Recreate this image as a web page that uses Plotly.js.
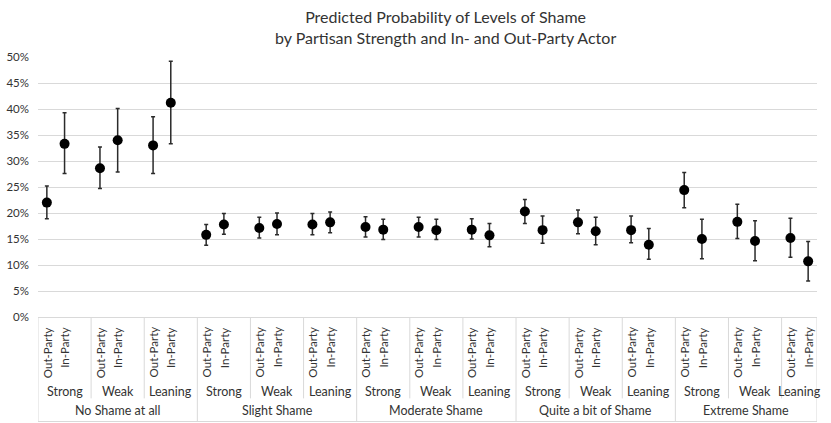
<!DOCTYPE html>
<html>
<head>
<meta charset="utf-8">
<script src="https://cdn.plot.ly/plotly-3.0.1.min.js"></script>
<style>
  html, body { margin: 0; padding: 0; background: #fff; }
  #chart { width: 831px; height: 423px; }
</style>
</head>
<body>
<div id="chart"></div>
<script>
// Category levels
const shameLevels = ['No Shame at all', 'Slight Shame', 'Moderate Shame', 'Quite a bit of Shame', 'Extreme Shame'];
const strengths = ['Strong', 'Weak', 'Leaning'];
const actors = ['Out-Party', 'In-Party'];

// Predicted probabilities, ordered shame level > strength > actor (Out, In)
const estimate = [
  0.220, 0.333, 0.286, 0.340, 0.330, 0.412,
  0.158, 0.178, 0.171, 0.179, 0.178, 0.182,
  0.173, 0.168, 0.173, 0.167, 0.168, 0.157,
  0.203, 0.167, 0.182, 0.165, 0.167, 0.139,
  0.244, 0.150, 0.183, 0.146, 0.152, 0.107
];
// 95% interval bounds
const upper = [
  0.252, 0.393, 0.327, 0.401, 0.385, 0.492,
  0.178, 0.199, 0.192, 0.200, 0.199, 0.202,
  0.193, 0.188, 0.192, 0.188, 0.189, 0.180,
  0.226, 0.194, 0.206, 0.192, 0.194, 0.170,
  0.278, 0.188, 0.217, 0.185, 0.190, 0.145
];
const lower = [
  0.189, 0.276, 0.247, 0.279, 0.276, 0.333,
  0.138, 0.159, 0.152, 0.158, 0.158, 0.162,
  0.154, 0.149, 0.154, 0.149, 0.150, 0.135,
  0.180, 0.142, 0.160, 0.139, 0.143, 0.111,
  0.210, 0.112, 0.151, 0.108, 0.115, 0.069
];

const chartTitle = 'Predicted Probability of Levels of Shame<br>by Partisan Strength and In- and Out-Party Actor';

// Each strength group holds Out-Party, In-Party and a spacer slot,
// except the very last group.
const SLOTS = 3;
const nGroups = shameLevels.length * strengths.length;
const lastSlot = (nGroups - 1) * SLOTS + actors.length - 1;

const xs = [], errPlus = [], errMinus = [];
estimate.forEach((v, i) => {
  const g = Math.floor(i / actors.length);
  const a = i % actors.length;
  xs.push(g * SLOTS + a);
  errPlus.push(upper[i] - v);
  errMinus.push(v - lower[i]);
});

const textColor = '#333333';
const lineColor = '#d9d9d9';
const font = 'Lato, "Open Sans", sans-serif';

const trace = {
  type: 'scatter',
  mode: 'markers',
  x: xs,
  y: estimate,
  marker: { color: '#000', size: 10 },
  error_y: {
    type: 'data', symmetric: false,
    array: errPlus, arrayminus: errMinus,
    color: '#2b2b2b', thickness: 1.5, width: 2
  },
  hoverinfo: 'skip'
};

// Axis label block below the plot
const annotations = [];
const shapes = [];
const actorY = -0.03, strengthY = -0.285, shameY = -0.36;
const dividerShort = -0.313, dividerLong = -0.402;

for (let g = 0; g < nGroups; g++) {
  actors.forEach((name, a) => {
    annotations.push({
      x: g * SLOTS + a, xref: 'x', y: actorY, yref: 'paper',
      text: name, textangle: -90, showarrow: false,
      xanchor: 'center', yanchor: 'top',
      font: { family: font, size: 11.5, color: textColor }
    });
  });
  const last = g === nGroups - 1;
  const left = g * SLOTS - 0.5;
  const right = last ? lastSlot + 0.5 : left + SLOTS;
  annotations.push({
    x: (left + right) / 2, xref: 'x', y: strengthY, yref: 'paper',
    text: strengths[g % strengths.length], showarrow: false,
    xanchor: 'center', yanchor: 'middle',
    font: { family: font, size: 12.5, color: textColor }
  });
}

shameLevels.forEach((name, s) => {
  const left = s * SLOTS * strengths.length - 0.5;
  const right = s === shameLevels.length - 1 ? lastSlot + 0.5 : left + SLOTS * strengths.length;
  annotations.push({
    x: (left + right) / 2, xref: 'x', y: shameY, yref: 'paper',
    text: name, showarrow: false, xanchor: 'center', yanchor: 'middle',
    font: { family: font, size: 12.5, color: textColor }
  });
});

// Chart title, two centred lines above the plot
annotations.push({
  x: 0.523, xref: 'paper', y: 1.2, yref: 'paper',
  text: chartTitle, showarrow: false, xanchor: 'center', yanchor: 'top',
  align: 'center',
  font: { family: font, size: 16, color: textColor }
});

// Divider lines: long ones between shame levels, short ones between strengths
for (let g = 0; g <= nGroups; g++) {
  const xPos = g === nGroups ? lastSlot + 0.5 : g * SLOTS - 0.5;
  const long = g % strengths.length === 0 || g === nGroups;
  shapes.push({
    type: 'line', xref: 'x', yref: 'paper',
    x0: xPos, x1: xPos, y0: 0, y1: long ? dividerLong : dividerShort,
    line: { color: lineColor, width: 1 }
  });
}
shapes.push({
  type: 'line', xref: 'x', yref: 'paper',
  x0: -0.5, x1: lastSlot + 0.5, y0: dividerLong, y1: dividerLong,
  line: { color: lineColor, width: 1 }
});

const layout = {
  width: 831, height: 423,
  margin: { l: 38, r: 14, t: 57, b: 106, pad: 0 },
  paper_bgcolor: '#fff', plot_bgcolor: '#fff',
  showlegend: false,
  xaxis: {
    range: [-0.5, lastSlot + 0.5],
    showgrid: false, zeroline: false, showticklabels: false, ticks: '',
    showline: true, linecolor: lineColor, linewidth: 1, fixedrange: true
  },
  yaxis: {
    range: [0, 0.5], dtick: 0.05, tickformat: '.0%',
    showgrid: true, gridcolor: lineColor, gridwidth: 1,
    zeroline: false, showline: false, ticks: '',
    ticklabelstandoff: 8,
    tickfont: { family: font, size: 11.5, color: textColor },
    fixedrange: true
  },
  annotations: annotations,
  shapes: shapes
};

Plotly.newPlot('chart', [trace], layout, { displayModeBar: false, staticPlot: true });
</script>
</body>
</html>
